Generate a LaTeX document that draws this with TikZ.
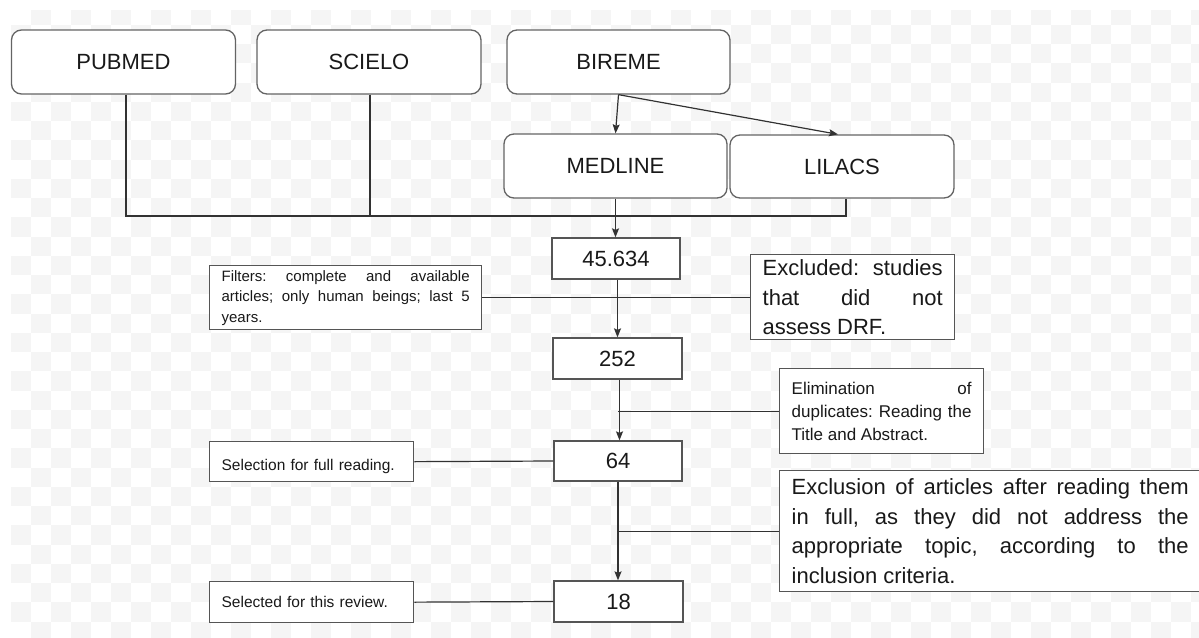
\documentclass[tikz,border=0pt]{standalone}
\usepackage{fontspec}
\setmainfont{Liberation Sans}
\usetikzlibrary{arrows.meta}
\definecolor{boxc}{RGB}{85,85,85}
\definecolor{rboxc}{RGB}{100,100,100}
\definecolor{linec}{RGB}{50,50,50}
\definecolor{txt}{RGB}{25,25,25}
\definecolor{checker}{RGB}{245,245,245}
\frenchspacing
\begin{document}
\begin{tikzpicture}[x=1pt,y=-1pt,
  bigf/.style={font=\fontsize{22}{29.5}\selectfont},
  rbox/.style={draw=rboxc, fill=white, rounded corners=10pt, line width=1.3pt,
    minimum width=224pt, minimum height=64pt, inner sep=0pt, bigf, text=txt},
  nbox/.style={draw=boxc, fill=white, line width=1.3pt, minimum width=128pt,
    minimum height=41pt, inner sep=0pt, bigf, text=txt},
  tbox/.style={draw=boxc, fill=white, line width=1.3pt, anchor=north west,
    inner xsep=12pt, inner ysep=0pt, align=justify, text=txt,
    execute at begin node={\frenchspacing\tolerance=10000\hyphenpenalty=10000}},
  link/.style={draw=linec, line width=1.2pt},
  arr/.style={link, -{Stealth[length=9pt,width=7pt,inset=1.5pt]}},
]
\useasboundingbox (0,0) rectangle (1199,637);
% transparency checkerboard background
\begin{scope}
  \clip (11,10) rectangle (1199,637);
  \foreach \i in {0,...,59}{
    \foreach \j in {0,...,32}{
      \pgfmathtruncatemacro{\chk}{mod(\i+\j,2)}
      \ifnum\chk=1
        \fill[checker] (11+20*\i,5.7+19.25*\j) rectangle ++(20,19.25);
      \fi
    }
  }
\end{scope}

% database boxes
\node[rbox] (pubmed) at (123.5,62) {PUBMED};
\node[rbox] (scielo) at (369,62) {SCIELO};
\node[rbox, minimum width=223pt] (bireme) at (618.5,62) {BIREME};
\node[rbox, minimum width=223pt] (medline) at (615.5,166) {MEDLINE};
\node[rbox, minimum height=63pt] (lilacs) at (842,166.5) {LILACS};

% count boxes
\node[nbox] (n45) at (616,258.5) {45.634};
\node[nbox, minimum width=129pt] (n252) at (617.5,358.5) {252};
\node[nbox, minimum height=40pt] (n64) at (618,461) {64};
\node[nbox, minimum width=129pt] (n18) at (618.5,601.5) {18};

% text boxes
\node[tbox, text width=248pt, minimum height=64pt, font=\fontsize{15}{20.5}\selectfont]
  (filters) at (209,265) {Filters: complete and available\linebreak articles; only human beings; last 5\linebreak years.};
\node[tbox, text width=180pt, minimum height=85pt, bigf]
  (excluded) at (750,254) {Excluded: studies\linebreak that did not\linebreak assess DRF.};
\node[tbox, text width=180pt, minimum height=85pt, font=\fontsize{17}{23}\selectfont]
  (elim) at (779,368) {Elimination of\linebreak duplicates: Reading the\linebreak Title and Abstract.};
\node[tbox, text width=180pt, minimum height=40pt, align=left, font=\fontsize{15.5}{20}\selectfont]
  (selection) at (209,441) {\raisebox{-5pt}[\height][\depth]{Selection for full reading.}};
\node[tbox, text width=397pt, minimum height=121pt, bigf]
  (exclusion) at (779,470) {Exclusion of articles after reading them\linebreak in full, as they did not address the\linebreak appropriate topic, according to the\linebreak inclusion criteria.};
\node[tbox, text width=180pt, minimum height=41pt, align=left, font=\fontsize{15.5}{20}\selectfont]
  (selected) at (209,581) {Selected for this review.};

% connectors
\coordinate (jn) at (616,216);
\draw[link] ([xshift=2.5pt]pubmed.south) |- (jn);
\draw[link] ([xshift=1pt]scielo.south) |- (jn);
\draw[link] ([xshift=4pt]lilacs.south) |- (jn);
\draw[arr] (medline.south) -- (medline.south |- n45.north);
\draw[arr] (bireme.south) -- (medline.north);
\draw[arr] (bireme.south) -- ([xshift=-4pt]lilacs.north);
\draw[arr] (n45.south -| n252.north) -- (n252.north);
\draw[link] (filters.east) -- (filters.east -| excluded.west);
\draw[arr] ([xshift=2pt]n252.south) -- ([xshift=2pt]n252.south |- n64.north);
\draw[link] (elim.west) -- (elim.west -| n64.north);
\draw[link] (selection.east) -- (n64.west);
\draw[arr] (n64.south) -- (n64.south |- n18.north);
\draw[link] (exclusion.west) -- (exclusion.west -| n64.south);
\draw[link] (selected.east) -- (n18.west);
\end{tikzpicture}
\end{document}
